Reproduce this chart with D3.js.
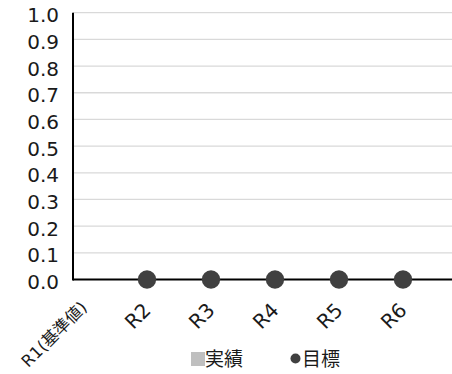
<!DOCTYPE html>
<html><head><meta charset="utf-8">
<script src="https://cdn.jsdelivr.net/npm/d3@7"></script>
<style>body{margin:0;background:#fff}svg{display:block;font-family:"DejaVu Sans","Noto Sans CJK JP",sans-serif}</style>
</head><body><svg id="c" width="452" height="374"></svg>
<script>
const categories = ["R1(基準値)", "R2", "R3", "R4", "R5", "R6"];
const actual = [0, 0, 0, 0, 0, 0];
const target = [null, 0, 0, 0, 0, 0];
const yTicks = [0, 0.1, 0.2, 0.3, 0.4, 0.5, 0.6, 0.7, 0.8, 0.9, 1.0];
const legendLabels = ["実績", "目標"];

const svg = d3.select("#c");
const plotLeft = 73, plotRight = 452, plotTop = 12.7, plotBottom = 279.5;
const x = d3.scaleBand().domain(categories).range([51, 435]).paddingInner(0.4).paddingOuter(0.2);
const y = d3.scaleLinear().domain([0, 1]).range([plotBottom, plotTop]);
const cx = d => x(d) + x.bandwidth() / 2;
const isLong = d => d.length > 3;

svg.append("g").selectAll("line").data(yTicks.filter(t => t > 0)).join("line")
  .attr("x1", plotLeft).attr("x2", plotRight)
  .attr("y1", d => y(d)).attr("y2", d => y(d))
  .attr("stroke", "#d9d9d9").attr("stroke-width", 1.3);

svg.append("g").selectAll("text").data(yTicks).join("text")
  .attr("x", 59).attr("y", d => y(d) + 9.5)
  .attr("text-anchor", "end").attr("font-size", 20).attr("fill", "#1a1a1a")
  .text(d => d.toFixed(1));

svg.append("g").selectAll("rect").data(categories).join("rect")
  .attr("x", d => x(d)).attr("width", x.bandwidth())
  .attr("y", (d, i) => y(actual[i])).attr("height", (d, i) => y(0) - y(actual[i]))
  .attr("fill", "#bfbfbf");

svg.append("line").attr("x1", plotLeft).attr("x2", plotRight).attr("y1", y(0)).attr("y2", y(0))
  .attr("stroke", "#000").attr("stroke-width", 2);
svg.append("line").attr("x1", plotLeft).attr("x2", plotLeft).attr("y1", y(1)).attr("y2", y(0) + 1)
  .attr("stroke", "#000").attr("stroke-width", 2);

svg.append("g").selectAll("circle").data(categories.map((c, i) => ({c, v: target[i]})).filter(d => d.v !== null)).join("circle")
  .attr("cx", d => cx(d.c)).attr("cy", d => y(d.v)).attr("r", 9.2)
  .attr("fill", "#404040");

svg.append("g").selectAll("text").data(categories).join("text")
  .attr("transform", d => isLong(d)
      ? `translate(${cx(d) + 5},${y(0) + 29}) rotate(-45)`
      : `translate(${cx(d) + 5},${y(0) + 32}) rotate(-45)`)
  .attr("text-anchor", "end").attr("font-size", d => isLong(d) ? 16.5 : 20).attr("fill", "#1a1a1a")
  .text(d => d);

const lg = svg.append("g");
lg.append("rect").attr("x", 191).attr("y", 352).attr("width", 14).attr("height", 14).attr("fill", "#bfbfbf");
lg.append("text").attr("x", 205).attr("y", 366).attr("font-size", 19).attr("fill", "#1a1a1a").text(legendLabels[0]);
lg.append("circle").attr("cx", 295.5).attr("cy", 358.5).attr("r", 5).attr("fill", "#404040");
lg.append("text").attr("x", 302).attr("y", 366).attr("font-size", 19).attr("fill", "#1a1a1a").text(legendLabels[1]);
</script></body></html>
